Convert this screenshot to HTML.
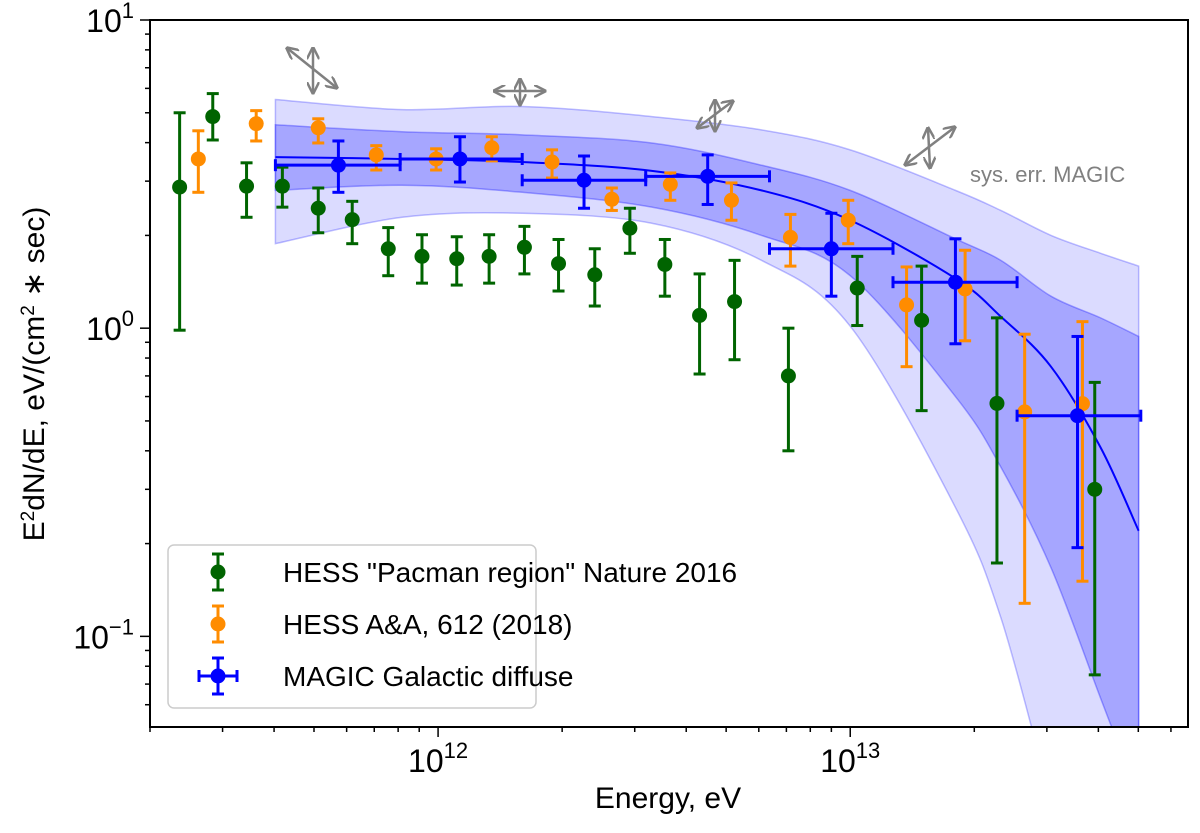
<!DOCTYPE html>
<html><head><meta charset="utf-8">
<style>
html,body{margin:0;padding:0;background:#fff;width:1200px;height:833px;overflow:hidden;}
svg{display:block;font-family:"Liberation Sans","DejaVu Sans",sans-serif;}
</style></head>
<body>
<svg id="chart" width="1200" height="833" viewBox="0 0 1200 833" xmlns="http://www.w3.org/2000/svg">
<defs>
<clipPath id="plotclip"><rect x="150" y="20" width="1038" height="707"/></clipPath>
<marker id="ah" viewBox="0 0 10 10" refX="9" refY="5" markerWidth="5" markerHeight="5" orient="auto-start-reverse"><path d="M0,0 L10,5 L0,10" fill="none" stroke="#808080" stroke-width="2"/></marker>
</defs>
<g id="bands" clip-path="url(#plotclip)"></g>
<g id="series" clip-path="url(#plotclip)"></g>
<g id="sys"></g>
<text x="970" y="182" font-size="22" fill="#808080">sys. err. MAGIC</text>
<g id="axes"></g>
<g>
<rect x="168" y="545" width="368" height="163" rx="6" fill="#fff" fill-opacity="0.8" stroke="#ccc" stroke-width="1.5"/>
<g id="legend-items"></g>
</g>
<text x="668" y="808" font-size="30" text-anchor="middle">Energy,  eV</text>
<text transform="translate(44,374) rotate(-90)" font-size="30" text-anchor="middle">E<tspan baseline-shift="super" font-size="19">2</tspan>dN/dE,  eV/(cm<tspan baseline-shift="super" font-size="19">2</tspan> ∗ sec)</text>
</svg>
<script>
// ---- data ----
const hessPacE   = [2.36e11,2.84e11,3.43e11,4.19e11,5.12e11,6.19e11,7.57e11,9.14e11,1.11e12,1.33e12,1.62e12,1.96e12,2.40e12,2.92e12,3.55e12,4.31e12,5.24e12,7.08e12,1.04e13,1.49e13,2.27e13,3.92e13];
const hessPacF   = [2.87,4.86,2.89,2.89,2.45,2.25,1.81,1.71,1.68,1.71,1.83,1.62,1.49,2.11,1.61,1.10,1.22,0.70,1.35,1.06,0.57,0.30];
const hessPacHi  = [5.0,5.77,3.44,3.33,2.85,2.58,2.12,2.01,1.98,2.01,2.14,1.94,1.81,2.45,1.94,1.50,1.66,1.0,1.71,1.59,1.08,0.667];
const hessPacLo  = [0.985,4.08,2.29,2.47,2.04,1.88,1.48,1.40,1.38,1.40,1.50,1.32,1.18,1.75,1.27,0.71,0.79,0.40,1.02,0.54,0.173,0.075];

const hessAAE    = [2.62e11,3.62e11,5.12e11,7.08e11,9.89e11,1.35e12,1.89e12,2.64e12,3.66e12,5.15e12,7.16e12,9.89e12,1.37e13,1.90e13,2.65e13,3.66e13];
const hessAAF    = [3.54,4.61,4.47,3.65,3.54,3.85,3.46,2.62,2.93,2.60,1.97,2.24,1.19,1.34,0.535,0.569];
const hessAAHi   = [4.37,5.08,4.78,3.91,3.82,4.18,3.79,2.85,3.19,2.96,2.34,2.60,1.58,1.79,0.956,1.05];
const hessAALo   = [2.76,4.05,3.99,3.26,3.26,3.49,3.07,2.41,2.60,2.24,1.59,1.88,0.75,0.91,0.128,0.151];

const magicE     = [5.73e11,1.13e12,2.26e12,4.51e12,9.00e12,1.80e13,3.56e13];
const magicELo   = [4.03e11,8.09e11,1.60e12,3.19e12,6.37e12,1.27e13,2.54e13];
const magicEHi   = [8.09e11,1.60e12,3.19e12,6.37e12,1.27e13,2.54e13,5.07e13];
const magicF     = [3.38,3.54,3.02,3.11,1.81,1.41,0.52];
const magicFHi   = [4.05,4.18,3.62,3.65,2.36,1.95,0.94];
const magicFLo   = [2.76,2.98,2.45,2.52,1.27,0.89,0.194];

const fitE       = [4.03e11,8.18e11,1.60e12,3.30e12,6.09e12,1.0e13,1.80e13,2.32e13,3.07e13,4.05e13,5.01e13];
const fitF       = [3.59,3.54,3.46,3.24,2.80,2.24,1.45,1.09,0.75,0.41,0.22];
const band1Hi    = [4.57,4.34,4.24,3.99,3.38,2.80,1.95,1.66,1.27,1.08,0.94];
const band1Lo    = [2.80,2.91,2.76,2.47,2.00,1.48,0.60,0.354,0.167,0.063,0.030];
const band2Hi    = [5.52,5.12,5.24,4.86,4.40,3.79,2.80,2.41,2.00,1.75,1.59];
const band2Lo    = [1.88,2.29,2.36,2.19,1.66,1.015,0.262,0.115,0.030,0.0096,0.0045];

const xTickDecades = [12,13];
const yTickDecades = [-1,0,1];

// ---- axes ----
const X0=150,X1=1188,Y0=20,Y1=727;
const xMin=Math.log10(2.0e11), xMax=Math.log10(6.6e13);
const yMin=Math.log10(0.0508), yMax=1;
const sx=v=>X0+(Math.log10(v)-xMin)/(xMax-xMin)*(X1-X0);
const sy=v=>Y1-(Math.log10(v)-yMin)/(yMax-yMin)*(Y1-Y0);
const NS="http://www.w3.org/2000/svg";
function mk(tag,attrs,parent){const e=document.createElementNS(NS,tag);for(const k in attrs)e.setAttribute(k,attrs[k]);parent.appendChild(e);return e;}

// smooth path through points (Catmull-Rom)
function smooth(pts,start){
  let d=(start?'M':'L')+pts[0][0]+','+pts[0][1];
  for(let i=0;i<pts.length-1;i++){
    const p0=pts[Math.max(0,i-1)],p1=pts[i],p2=pts[i+1],p3=pts[Math.min(pts.length-1,i+2)];
    const c1=[p1[0]+(p2[0]-p0[0])/6,p1[1]+(p2[1]-p0[1])/6];
    const c2=[p2[0]-(p3[0]-p1[0])/6,p2[1]-(p3[1]-p1[1])/6];
    d+='C'+c1[0]+','+c1[1]+' '+c2[0]+','+c2[1]+' '+p2[0]+','+p2[1];
  }
  return d;
}
const bands=document.getElementById('bands');
function bandPath(hi,lo){
  const up=fitE.map((e,i)=>[sx(e),sy(hi[i])]);
  const dn=fitE.map((e,i)=>[sx(e),sy(lo[i])]).reverse();
  return smooth(up,true)+smooth(dn,false)+'Z';
}
const b2=mk('path',{d:bandPath(band2Hi,band2Lo),fill:'rgba(0,0,255,0.14)',stroke:'rgba(0,0,255,0.25)','stroke-width':1.5},bands);


const b1=mk('path',{d:bandPath(band1Hi,band1Lo),fill:'rgba(0,0,255,0.24)',stroke:'rgba(0,0,255,0.3)','stroke-width':1.5},bands);


const fl=mk('path',{d:smooth(fitE.map((e,i)=>[sx(e),sy(fitF[i])]),true),fill:'none',stroke:'#0000ff','stroke-width':2},bands);



// series
const ser=document.getElementById('series');
function errPt(g,x,y,yh,yl,col,xl,xh){
  mk('line',{x1:x,y1:sy(yh),x2:x,y2:sy(yl),stroke:col,'stroke-width':3},g);
  mk('line',{x1:x-6,y1:sy(yh),x2:x+6,y2:sy(yh),stroke:col,'stroke-width':3},g);
  mk('line',{x1:x-6,y1:sy(yl),x2:x+6,y2:sy(yl),stroke:col,'stroke-width':3},g);
  if(xl!==undefined){
    mk('line',{x1:sx(xl),y1:sy(y),x2:sx(xh),y2:sy(y),stroke:col,'stroke-width':3},g);
    mk('line',{x1:sx(xl),y1:sy(y)-6,x2:sx(xl),y2:sy(y)+6,stroke:col,'stroke-width':3},g);
    mk('line',{x1:sx(xh),y1:sy(y)-6,x2:sx(xh),y2:sy(y)+6,stroke:col,'stroke-width':3},g);
  }
  mk('circle',{cx:x,cy:sy(y),r:7.5,fill:col},g);
}
const gG=mk('g',{},ser);


hessPacE.forEach((e,i)=>errPt(gG,sx(e),hessPacF[i],hessPacHi[i],hessPacLo[i],'#006400'));
const gO=mk('g',{},ser);


hessAAE.forEach((e,i)=>errPt(gO,sx(e),hessAAF[i],hessAAHi[i],hessAALo[i],'#ff8c00'));
const gB=mk('g',{},ser);


magicE.forEach((e,i)=>errPt(gB,sx(e),magicF[i],magicFHi[i],magicFLo[i],'#0000ff',magicELo[i],magicEHi[i]));

// sys arrows
const sys=document.getElementById('sys');
const arrows=[[287,48,337,88],[313,48,313,93],[494,91,545,91],[520,79,520,105],[697,128,733,101],[715,100,715,131],[905,165,955,127],[928,128,930,168]];
arrows.forEach(a=>mk('line',{x1:a[0],y1:a[1],x2:a[2],y2:a[3],stroke:'#808080','stroke-width':2.5,'marker-start':'url(#ah)','marker-end':'url(#ah)'},sys));

// axes
const ax=document.getElementById('axes');
const fr=mk('rect',{x:X0,y:Y0,width:X1-X0,height:Y1-Y0,fill:'none',stroke:'#000','stroke-width':2},ax);


for(let d=11;d<=13;d++)for(let m=1;m<10;m++){
  const v=m*Math.pow(10,d);const x=sx(v);if(x<X0-0.5||x>X1+0.5)continue;
  const L=m===1?10:5;
  mk('line',{x1:x,y1:Y1,x2:x,y2:Y1+L,stroke:'#000','stroke-width':1.5},ax);
}
for(let d=-2;d<=1;d++)for(let m=1;m<10;m++){
  const v=m*Math.pow(10,d);const y=sy(v);if(y<Y0-0.5||y>Y1+0.5)continue;
  const L=m===1?10:5;
  mk('line',{x1:X0,y1:y,x2:X0-L,y2:y,stroke:'#000','stroke-width':1.5},ax);
}
xTickDecades.forEach(d=>{
  const t=mk('text',{x:sx(Math.pow(10,d)),y:772,'font-size':32,'text-anchor':'middle'},ax);
  
  
  t.innerHTML='10<tspan dy="-14" font-size="22">'+d+'</tspan>';
});
yTickDecades.forEach(d=>{
  const t=mk('text',{x:134,y:sy(Math.pow(10,d))+12,'font-size':32,'text-anchor':'end'},ax);
  
  
  t.innerHTML='10<tspan dy="-14" font-size="22">'+(d<0?'−'+(-d):d)+'</tspan>';
});

// legend
const li=document.getElementById('legend-items');
const legs=[['HESS "Pacman region" Nature 2016','#006400',false],['HESS A&A, 612 (2018)','#ff8c00',false],['MAGIC Galactic diffuse','#0000ff',true]];
legs.forEach((l,i)=>{
  const y=572+i*52;
  const g=mk('g',{},li);
  
  
  mk('line',{x1:218,y1:y-18,x2:218,y2:y+18,stroke:l[1],'stroke-width':3},g);
  mk('line',{x1:212,y1:y-18,x2:224,y2:y-18,stroke:l[1],'stroke-width':3},g);
  mk('line',{x1:212,y1:y+18,x2:224,y2:y+18,stroke:l[1],'stroke-width':3},g);
  if(l[2]){mk('line',{x1:199,y1:y,x2:237,y2:y,stroke:l[1],'stroke-width':3},g);
    mk('line',{x1:199,y1:y-6,x2:199,y2:y+6,stroke:l[1],'stroke-width':3},g);
    mk('line',{x1:237,y1:y-6,x2:237,y2:y+6,stroke:l[1],'stroke-width':3},g);}
  mk('circle',{cx:218,cy:y,r:7.5,fill:l[1]},g);
  const t=mk('text',{x:283,y:y+10,'font-size':28},g);
  t.textContent=l[0];
});
</script>
</body></html>
